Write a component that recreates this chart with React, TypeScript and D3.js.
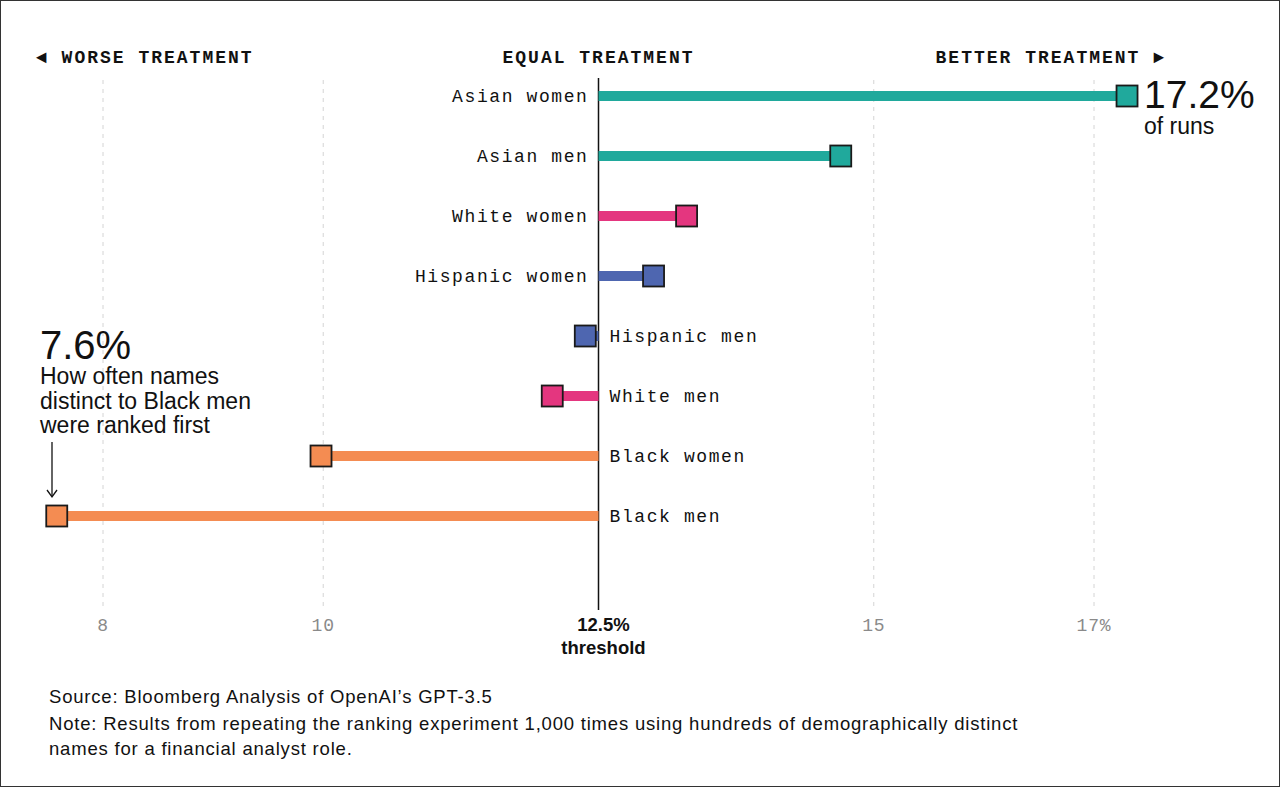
import React from "react";
import * as d3 from "d3";

const categories = ["Asian women", "Asian men", "White women", "Hispanic women", "Hispanic men", "White men", "Black women", "Black men"];
const values = [17.3, 14.7, 13.3, 13.0, 12.38, 12.08, 9.98, 7.58];
const groups = ["asian", "asian", "white", "hispanic", "hispanic", "white", "black", "black"];
const tickValues = [8, 10, 15, 17];
const tickLabels = ["8", "10", "15", "17%"];
const threshold = 12.5;

const colors: Record<string, string> = {
  asian: "#20a99c",
  white: "#e4367f",
  hispanic: "#4e66b0",
  black: "#f48c52",
};

const W = 1280;
const H = 787;
const mono = "'Liberation Mono', 'DejaVu Sans Mono', monospace";
const sans = "'Liberation Sans', Arial, sans-serif";

export default function App() {
  const x = d3.scaleLinear().domain([8, 17]).range([103, 1094]);
  const y = d3.scalePoint<string>().domain(categories).range([96, 516]);
  const bh = 10;
  const ms = 21;
  const x0 = x(threshold);

  return (
    <svg width={W} height={H} style={{ position: "absolute", left: 0, top: 0, background: "#fff" }}>
      <rect x={0.5} y={0.5} width={W - 1} height={H - 1} fill="#fff" stroke="#333" strokeWidth={1} />

      {tickValues.map((t, i) => (
        <g key={t}>
          <line x1={x(t)} x2={x(t)} y1={80} y2={608} stroke="#d4d4d4" strokeWidth={1} strokeDasharray="4,5" />
          <text x={x(t)} y={631} textAnchor="middle" fontFamily={mono} fontSize={18} fill="#8a8a8a" letterSpacing={0.8}>
            {tickLabels[i]}
          </text>
        </g>
      ))}

      <line x1={x0} x2={x0} y1={78} y2={610} stroke="#111" strokeWidth={1.5} />
      <text x={x0 + 5} y={631} textAnchor="middle" fontFamily={sans} fontWeight="bold" fontSize={18.5} fill="#111">12.5%</text>
      <text x={x0 + 5} y={654} textAnchor="middle" fontFamily={sans} fontWeight="bold" fontSize={18.5} fill="#111">threshold</text>

      <g fontFamily={mono} fontWeight="bold" fontSize={18} fill="#111" letterSpacing={2}>
        <text x={36} y={63}>◄ WORSE TREATMENT</text>
        <text x={x0} y={63} textAnchor="middle">EQUAL TREATMENT</text>
        <text x={1166} y={63} textAnchor="end">BETTER TREATMENT ►</text>
      </g>

      {categories.map((c, i) => {
        const v = values[i];
        const cy = y(c) as number;
        const xv = x(v);
        const pos = v >= threshold;
        const col = colors[groups[i]];
        return (
          <g key={c}>
            <rect x={Math.min(x0, xv)} y={cy - bh / 2} width={Math.abs(xv - x0)} height={bh} fill={col} />
            <rect x={xv - ms / 2} y={cy - ms / 2} width={ms} height={ms} fill={col} stroke="#1a1a1a" strokeWidth={1.8} />
            <text
              x={pos ? x0 - 10 : x0 + 11}
              y={cy + 6}
              textAnchor={pos ? "end" : "start"}
              fontFamily={mono}
              fontSize={18}
              fill="#111"
              letterSpacing={1.6}
            >
              {c}
            </text>
          </g>
        );
      })}

      <text x={1144} y={108} fontFamily={sans} fontSize={39} fill="#111">17.2%</text>
      <text x={1144} y={134} fontFamily={sans} fontSize={23} fill="#111">of runs</text>

      <text x={40} y={359} fontFamily={sans} fontSize={40} fill="#111">7.6%</text>
      <g fontFamily={sans} fontSize={23} fill="#111">
        <text x={40} y={384}>How often names</text>
        <text x={40} y={409}>distinct to Black men</text>
        <text x={40} y={433}>were ranked first</text>
      </g>
      <line x1={52} x2={52} y1={442} y2={496} stroke="#111" strokeWidth={1.3} />
      <path d="M47,490 L52,497 L57,490" fill="none" stroke="#111" strokeWidth={1.3} />

      <g fontFamily={sans} fontSize={18.5} fill="#111" letterSpacing={0.8}>
        <text x={49} y={703}>Source: Bloomberg Analysis of OpenAI’s GPT-3.5</text>
        <text x={49} y={730}>Note: Results from repeating the ranking experiment 1,000 times using hundreds of demographically distinct</text>
        <text x={49} y={755}>names for a financial analyst role.</text>
      </g>
    </svg>
  );
}
